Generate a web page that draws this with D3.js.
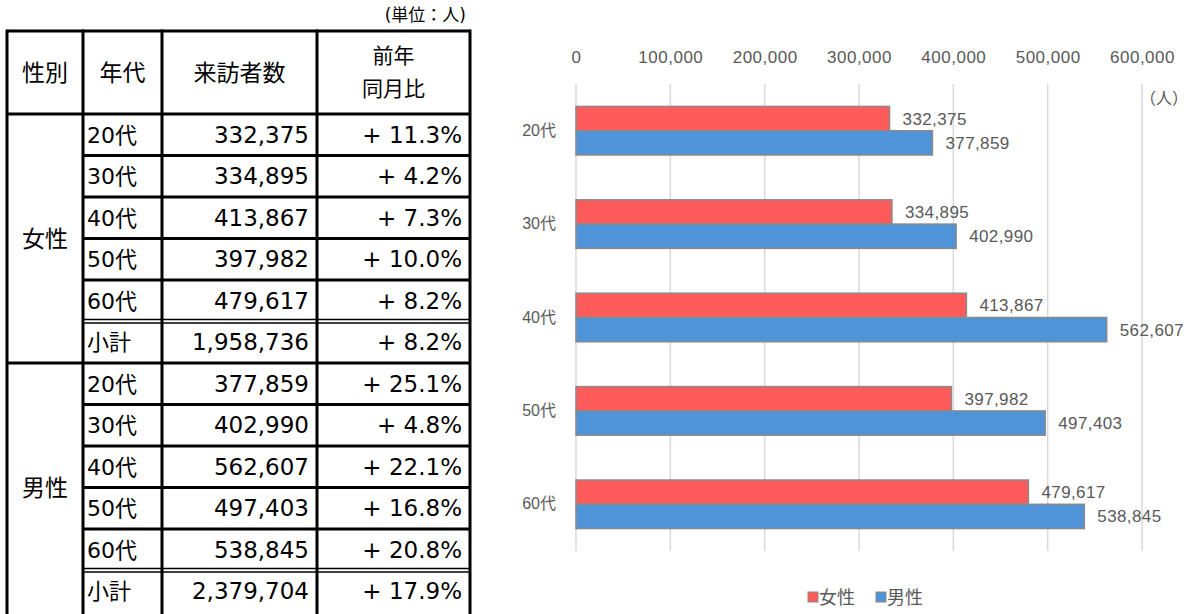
<!DOCTYPE html>
<html>
<head>
<meta charset="utf-8">
<script src="https://cdn.jsdelivr.net/npm/d3@7"></script>
<style>
  body { margin: 0; background: #fff; }
  svg text { font-family: "DejaVu Sans", "Noto Sans CJK JP", sans-serif; }
  .chart text { font-family: "Liberation Sans", "Noto Sans CJK JP", sans-serif; fill: #595959; }
</style>
</head>
<body>
<div id="vis"></div>
<script>
// data
const ages = ["20代", "30代", "40代", "50代", "60代"];
const female = [332375, 334895, 413867, 397982, 479617];
const male = [377859, 402990, 562607, 497403, 538845];
const femaleRate = ["+ 11.3%", "+ 4.2%", "+ 7.3%", "+ 10.0%", "+ 8.2%"];
const maleRate = ["+ 25.1%", "+ 4.8%", "+ 22.1%", "+ 16.8%", "+ 20.8%"];
const subtotalRate = ["+ 8.2%", "+ 17.9%"];
const groups = ["女性", "男性"];
const seriesColors = ["#ff5b5b", "#4f93d8"];
const xTicks = [0, 100000, 200000, 300000, 400000, 500000, 600000];

const W = 1189, H = 614;
const svg = d3.select("#vis").append("svg")
    .attr("width", W)
    .attr("height", H);

const fmt = d3.format(",");

// ---------- table ----------
const cols = [7, 83, 162, 317, 470];
const headTop = 31, rowTop = 114, rowH = 41.5;

let tableRows = [];
[female, male].forEach((vals, g) => {
    const rates = g === 0 ? femaleRate : maleRate;
    ages.forEach((a, i) => tableRows.push({ g, label: a, value: vals[i], rate: rates[i], sub: false }));
    tableRows.push({ g, label: "小計", value: d3.sum(vals), rate: subtotalRate[g], sub: true });
});

const table = svg.append("g").attr("class", "table");
const y0 = i => rowTop + i * rowH;

// unit note
table.append("text")
    .attr("x", cols[4] - 4).attr("y", 21)
    .attr("text-anchor", "end")
    .attr("font-size", 17)
    .text("(単位：人)");

// header
const heads = ["性別", "年代", "来訪者数"];
heads.forEach((h, i) => {
    table.append("text")
        .attr("x", (cols[i] + cols[i + 1]) / 2)
        .attr("y", (headTop + rowTop) / 2 + 8)
        .attr("text-anchor", "middle")
        .attr("font-size", 23)
        .text(h);
});
["前年", "同月比"].forEach((h, i) => {
    table.append("text")
        .attr("x", (cols[3] + cols[4]) / 2)
        .attr("y", 63 + i * 33)
        .attr("text-anchor", "middle")
        .attr("font-size", 21)
        .text(h);
});

// rows
const rowsG = table.selectAll(".row").data(tableRows).join("g").attr("class", "row");
rowsG.append("text")
    .attr("x", cols[1] + 4)
    .attr("y", (d, i) => y0(i) + rowH / 2 + 8)
    .attr("font-size", 22)
    .text(d => d.label);
rowsG.append("text")
    .attr("x", cols[3] - 8)
    .attr("y", (d, i) => y0(i) + rowH / 2 + 8)
    .attr("text-anchor", "end")
    .attr("font-size", 23)
    .text(d => fmt(d.value));
rowsG.append("text")
    .attr("x", cols[4] - 8)
    .attr("y", (d, i) => y0(i) + rowH / 2 + 8)
    .attr("text-anchor", "end")
    .attr("font-size", 23)
    .text(d => d.rate);

// group labels
groups.forEach((g, k) => {
    table.append("text")
        .attr("x", (cols[0] + cols[1]) / 2)
        .attr("y", y0(k * 6) + 3 * rowH + 8)
        .attr("text-anchor", "middle")
        .attr("font-size", 23)
        .text(g);
});

// lines
const line = (x1, y1, x2, y2, w) => table.append("line")
    .attr("x1", x1).attr("y1", y1).attr("x2", x2).attr("y2", y2)
    .attr("stroke", "#000").attr("stroke-width", w);

const bottom = y0(tableRows.length) + 4; // bottom edge falls just outside the picture
line(cols[0], headTop, cols[4], headTop, 3);
cols.forEach(c => line(c, headTop - 1.5, c, bottom + 1.5, 3));
line(cols[0], rowTop, cols[4], rowTop, 3);
tableRows.forEach((d, i) => {
    if (i === 0) return;
    if (i === 6) {
        line(cols[0], y0(i), cols[4], y0(i), 3);
    } else if (d.sub) {
        line(cols[1], y0(i) - 2, cols[4], y0(i) - 2, 1.5);
        line(cols[1], y0(i) + 1.5, cols[4], y0(i) + 1.5, 1.5);
    } else {
        line(cols[1], y0(i), cols[4], y0(i), 3);
    }
});
line(cols[0], bottom, cols[4], bottom, 3);

// ---------- bar chart ----------
const chart = svg.append("g").attr("class", "chart");
const plot = { left: 576, right: 1142, top: 84, bottom: 551 };

const xScale = d3.scaleLinear()
    .domain([0, 600000])
    .range([plot.left, plot.right]);

const yScale = d3.scaleBand()
    .domain(ages)
    .range([plot.top, plot.bottom])
    .paddingInner(0.48)
    .paddingOuter(0.24);

const ySub = d3.scaleBand()
    .domain([0, 1])
    .range([0, yScale.bandwidth()]);

// gridlines
chart.append("g")
    .selectAll("line")
    .data(xTicks)
    .join("line")
    .attr("x1", d => xScale(d)).attr("x2", d => xScale(d))
    .attr("y1", plot.top).attr("y2", plot.bottom)
    .attr("stroke", "#d9d9d9")
    .attr("stroke-width", 1.5);

// top axis labels
const xAxis = d3.axisTop(xScale)
    .tickValues(xTicks)
    .tickFormat(fmt)
    .tickSize(0)
    .tickPadding(0);
const axG = chart.append("g")
    .attr("transform", "translate(0,63)")
    .call(xAxis);
axG.select(".domain").remove();
axG.selectAll("text")
    .attr("font-size", 17)
    .attr("letter-spacing", 0.5)
    .style("font-family", '"Liberation Sans", sans-serif')
    .attr("fill", "#595959");

// category axis
const yAxis = d3.axisLeft(yScale).tickSize(0).tickPadding(20);
const yG = chart.append("g")
    .attr("transform", `translate(${plot.left},0)`)
    .call(yAxis);
yG.select(".domain").remove();
yG.selectAll("text")
    .attr("font-size", 16)
    .style("font-family", '"Liberation Sans", "Noto Sans CJK JP", sans-serif')
    .attr("fill", "#595959");

// unit
chart.append("text")
    .attr("x", 1140).attr("y", 104)
    .attr("font-size", 16)
    .style("font-family", '"Noto Sans CJK JP", sans-serif')
    .text("（人）");

const series = [female, male];
series.forEach((vals, s) => {
    const g = chart.append("g");
    g.selectAll("rect")
        .data(ages)
        .join("rect")
        .attr("x", xScale(0))
        .attr("y", d => yScale(d) + ySub(s))
        .attr("width", (d, i) => xScale(vals[i]) - xScale(0))
        .attr("height", ySub.bandwidth())
        .attr("fill", seriesColors[s])
        .attr("stroke", "#8a8a8a")
        .attr("stroke-width", 1.5);
    g.selectAll("text")
        .data(ages)
        .join("text")
        .attr("x", (d, i) => xScale(vals[i]) + 13)
        .attr("y", d => yScale(d) + ySub(s) + ySub.bandwidth() / 2 + 6)
        .attr("font-size", 17)
        .attr("letter-spacing", 0.4)
        .text((d, i) => fmt(vals[i]));
});

// legend
const legend = chart.append("g").attr("transform", "translate(808,598)");
groups.forEach((g, i) => {
    const lg = legend.append("g").attr("transform", `translate(${i * 68},0)`);
    lg.append("rect")
        .attr("x", 0).attr("y", -6)
        .attr("width", 10).attr("height", 10)
        .attr("fill", seriesColors[i])
        .attr("stroke", "#8a8a8a");
    lg.append("text")
        .attr("x", 11).attr("y", 6)
        .attr("font-size", 18)
        .text(g);
});
</script>
</body>
</html>
